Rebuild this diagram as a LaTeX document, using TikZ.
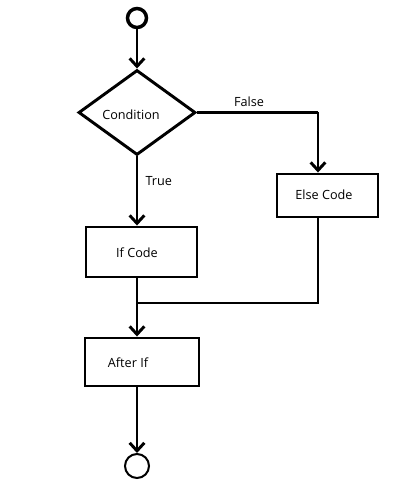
\documentclass[tikz,border=0pt]{standalone}
\usepackage{fontspec}
\setmainfont{Open Sans}
\usetikzlibrary{shapes.geometric,arrows.meta}
\begin{document}
\begin{tikzpicture}[x=0.75pt,y=-0.75pt,
  every node/.style={font=\fontsize{9.5pt}{11pt}\selectfont},
  conn/.style={line width=2.2pt},
  arr/.style={conn,-{Straight Barb[length=6pt,width=11pt,line width=2.2pt]}},
  box/.style={draw,line width=2.2pt,rectangle,inner sep=0pt},
  decision/.style={draw,line width=2.2pt,diamond,inner sep=0pt,minimum width=87.75pt,minimum height=63.75pt}]
\useasboundingbox (0,0) rectangle (400,499);
\node[circle,draw,line width=2.6pt,minimum size=14.25pt,inner sep=0pt] (start) at (137,18) {};
\node[decision] (cond) at (137,112.5) {};
\node at (131,115) {Condition};
\node[box,minimum width=83.25pt,minimum height=37.5pt] (ifcode) at (141.5,252) {};
\node at (137,253) {If Code};
\node[box,minimum width=75.75pt,minimum height=32.25pt] (elsecode) at (327.5,195.5) {};
\node at (324,195) {Else Code};
\node[box,minimum width=85.5pt,minimum height=36pt] (afterif) at (142,362) {};
\node at (128,363) {After If};
\node[circle,draw,line width=1.5pt,minimum size=18pt,inner sep=0pt] (end) at (137,466) {};
\coordinate (fc) at (318,112.5);
\coordinate (m) at (137,303);
\draw[arr] (start) -- (cond.north);
\draw[arr] (cond.south) -- node[pos=0.35,right,xshift=2pt]{True} (cond.south |- ifcode.north);
\draw[conn] (cond.east) -- node[pos=0.43,above]{False} (fc);
\draw[arr] (fc) -- (fc |- elsecode.north);
\draw[conn] (m |- ifcode.south) -- (m);
\draw[conn] (fc |- elsecode.south) -- (fc |- m) -- (m);
\draw[arr] (m) -- (m |- afterif.north);
\draw[arr] (m |- afterif.south) -- (end);
\end{tikzpicture}
\end{document}
